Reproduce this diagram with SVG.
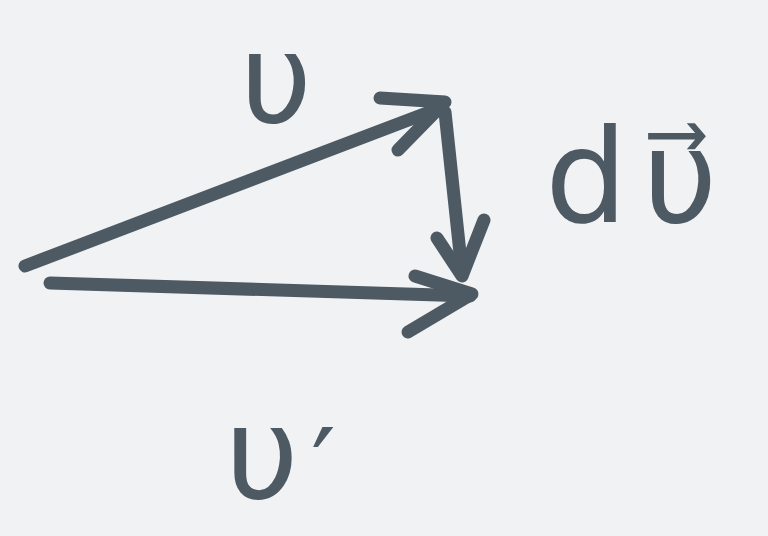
<svg xmlns="http://www.w3.org/2000/svg" width="768" height="536" viewBox="0 0 768 536">
<style>
.v{fill:none;stroke:#4d5963;stroke-width:13;stroke-linecap:round;stroke-linejoin:round}
.t{font-family:"DejaVu Sans",sans-serif;fill:#4d5963}
</style>
<rect width="768" height="536" fill="#f1f2f4"/>
<g id="connectors">
<g id="vec-v"><path class="v" d="M25 266 L440 108"/><path class="v" d="M380 98 L445 102 L398 150"/></g>
<g id="vec-vprime"><path class="v" d="M50 283 L470 296"/><path class="v" d="M415 276 L472 294 L408 332"/></g>
<g id="vec-dv"><path class="v" d="M445 112 L462 272"/><path class="v" d="M437 238 L462 276 L484 220"/></g>
</g>
<g id="label-v"><text class="t" x="240" y="122" font-size="125">υ</text></g>
<g id="label-vprime"><text class="t" x="225" y="498" font-size="128">υ<tspan dx="12" dy="10" font-size="110">′</tspan></text></g>
<g id="label-dv"><text class="t" x="545" y="222" font-size="130" letter-spacing="15">dυ⃗</text></g>
</svg>
